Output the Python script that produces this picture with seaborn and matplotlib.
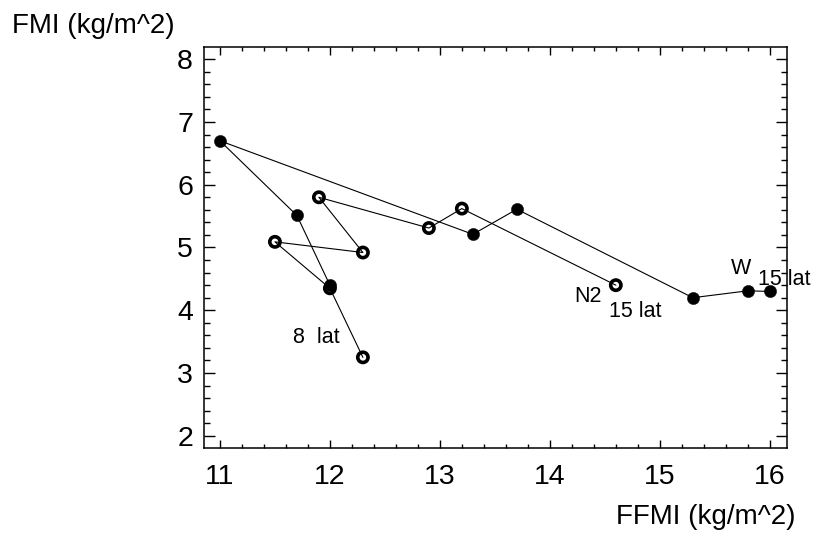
import numpy as np
import pandas as pd
import matplotlib
matplotlib.use("Agg")
import matplotlib.pyplot as plt
import seaborn as sns
from matplotlib.ticker import MultipleLocator

# latitude steps, 8 lat -> 15 lat
lat = [8, 9, 10, 11, 12, 13, 14, 15]

# W series (filled circles)
w_ffmi = [12.0, 11.7, 11.0, 13.3, 13.7, 15.3, 15.8, 16.0]
w_fmi = [4.40, 5.51, 6.70, 5.21, 5.61, 4.20, 4.31, 4.30]

# N2 series (open circles)
n2_ffmi = [12.3, 12.0, 11.5, 12.3, 11.9, 12.9, 13.2, 14.6]
n2_fmi = [3.25, 4.35, 5.09, 4.92, 5.80, 5.31, 5.62, 4.40]

x_ticks = [11, 12, 13, 14, 15, 16]
y_ticks = [2, 3, 4, 5, 6, 7, 8]

sns.set_theme(style="ticks")
plt.rcParams["font.family"] = ["Liberation Sans", "DejaVu Sans"]
plt.rcParams["axes.linewidth"] = 1.1
plt.rcParams["text.color"] = "black"
plt.rcParams["xtick.labelcolor"] = "black"
plt.rcParams["ytick.labelcolor"] = "black"

df_w = pd.DataFrame({"lat": lat, "FFMI": w_ffmi, "FMI": w_fmi})
df_n2 = pd.DataFrame({"lat": lat, "FFMI": n2_ffmi, "FMI": n2_fmi})

fig = plt.figure(figsize=(8.15, 5.36), dpi=100)
ax = fig.add_axes([0.2503, 0.1647, 0.7154, 0.7471])

# lignes
sns.lineplot(data=df_n2, x="FFMI", y="FMI", sort=False, estimator=None,
             color="black", linewidth=0.8, ax=ax)
sns.lineplot(data=df_w, x="FFMI", y="FMI", sort=False, estimator=None,
             color="black", linewidth=0.8, ax=ax)

# marqueurs
sns.scatterplot(data=df_n2, x="FFMI", y="FMI", s=7.4 ** 2, facecolors="none",
                edgecolor="black", linewidth=2.6, ax=ax, zorder=3)
sns.scatterplot(data=df_w, x="FFMI", y="FMI", s=8.8 ** 2, color="black",
                edgecolor="black", linewidth=0.3, ax=ax, zorder=4)

ax.set_xlim(10.855, 16.157)
ax.set_ylim(1.81, 8.19)
ax.set_xticks(x_ticks)
ax.set_yticks(y_ticks)
ax.xaxis.set_minor_locator(MultipleLocator(0.2))
ax.yaxis.set_minor_locator(MultipleLocator(0.2))
ax.set_xlabel("")
ax.set_ylabel("")

ax.tick_params(axis="both", which="both", direction="in", top=True, right=True,
               color="black", width=1.0, labelcolor="black")
ax.tick_params(axis="x", which="major", length=5.6, labelsize=20.5, pad=12)
ax.tick_params(axis="x", which="minor", length=2.6)
ax.tick_params(axis="y", which="major", length=8.0, labelsize=20.5, pad=8)
ax.tick_params(axis="y", which="minor", length=4.6)
for sp in ax.spines.values():
    sp.set_color("black")

# etiquettes
ax.text(11.66, 3.475, "8  lat", fontsize=15.5, ha="left", va="baseline")
ax.text(14.47, 4.13, "N2", fontsize=15.5, ha="right", va="baseline")
ax.text(14.54, 3.90, "15 lat", fontsize=15.5, ha="left", va="baseline")
ax.text(15.65, 4.58, "W", fontsize=15.5, ha="left", va="baseline")
ax.text(15.89, 4.40, "15 lat", fontsize=15.5, ha="left", va="baseline", clip_on=False)

fig.text(12 / 815, 1 - 33 / 536, "FMI (kg/m^2)", fontsize=20, ha="left", va="baseline")
fig.text(795 / 815, 1 - 524 / 536, "FFMI (kg/m^2)", fontsize=20, ha="right", va="baseline")

fig.savefig("out.png", dpi=100)
